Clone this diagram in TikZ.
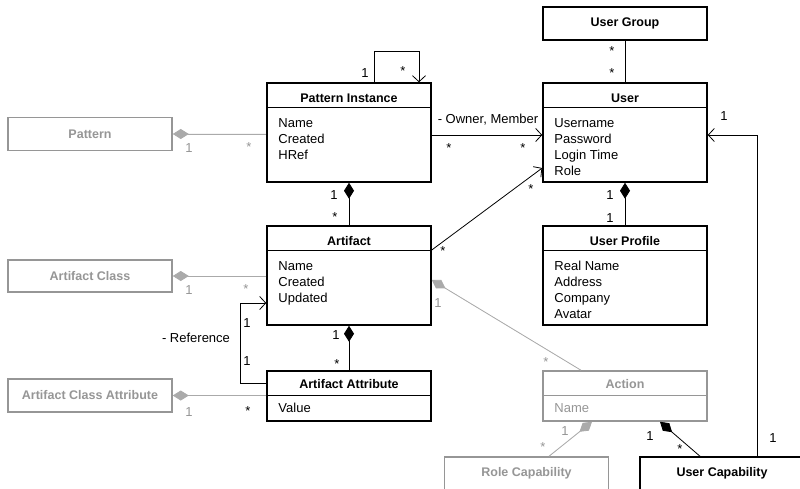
\documentclass[tikz,border=0pt]{standalone}
\usepackage{fontspec}
\setmainfont{Liberation Sans}
\usepackage{tikz}
\usetikzlibrary{arrows.meta}
\definecolor{umlgray}{RGB}{150,150,150}
\definecolor{linegray}{RGB}{170,170,170}

\begin{document}
\begin{tikzpicture}[x=1pt,y=-1pt,
    classbox/.style={shape=rectangle,draw=black,line width=1.5pt,minimum width=164pt,inner sep=0pt},
    ghostbox/.style={classbox,draw=umlgray},
    classname/.style={anchor=base,inner sep=0pt,font=\bfseries\fontsize{12.5}{15}\selectfont},
    attrs/.style={anchor=north west,align=left,inner sep=0pt,font=\fontsize{13}{16}\selectfont},
    mult/.style={inner sep=0pt,font=\fontsize{13}{15}\selectfont},
    gmult/.style={mult,text=umlgray},
    link/.style={line width=0.8pt},
    assoc/.style={link,-{Straight Barb[length=6pt,width=13pt]}},
    compo/.style={link,{Diamond[length=16pt,width=10pt]}-},
    gcompo/.style={compo,draw=linegray,fill=linegray}]
    \useasboundingbox (0,0) rectangle (800,489);
    \clip (0,0) rectangle (800,489);
    \fill[white] (0,0) rectangle (800,489);

    % classes
    \node[classbox,minimum height=99pt] (pi) at (349,132.5) {};
    \node[classname] (pi-t) at ([yshift=-20pt]pi.north) {Pattern Instance};
    \draw[link] ([yshift=-25pt]pi.north west) -- ([yshift=-25pt]pi.north east);
    \node[attrs] (pi-a) at ([xshift=12pt,yshift=-35.7pt]pi.north west) {Name\\Created\\HRef};

    \node[classbox,minimum height=99pt] (user) at (625,132.5) {};
    \node[classname] (user-t) at ([yshift=-20pt]user.north) {User};
    \draw[link] ([yshift=-25pt]user.north west) -- ([yshift=-25pt]user.north east);
    \node[attrs] (user-a) at ([xshift=12pt,yshift=-35.7pt]user.north west) {Username\\Password\\Login Time\\Role};

    \node[classbox,minimum height=33pt,font=\bfseries\fontsize{12.5}{15}\selectfont] (ugroup) at (625,23.5) {User Group};

    \node[ghostbox,minimum height=33pt,text=umlgray,font=\bfseries\fontsize{12.5}{15}\selectfont] (pattern) at (90,134) {Pattern};

    \node[classbox,minimum height=99pt] (art) at (349,275.5) {};
    \node[classname] (art-t) at ([yshift=-20pt]art.north) {Artifact};
    \draw[link] ([yshift=-25pt]art.north west) -- ([yshift=-25pt]art.north east);
    \node[attrs] (art-a) at ([xshift=12pt,yshift=-35.7pt]art.north west) {Name\\Created\\Updated};

    \node[ghostbox,minimum height=32pt,text=umlgray,font=\bfseries\fontsize{12.5}{15}\selectfont] (aclass) at (90,276) {Artifact Class};

    \node[classbox,minimum height=99pt] (uprofile) at (625,275.5) {};
    \node[classname] (uprofile-t) at ([yshift=-20pt]uprofile.north) {User Profile};
    \draw[link] ([yshift=-25pt]uprofile.north west) -- ([yshift=-25pt]uprofile.north east);
    \node[attrs] (uprofile-a) at ([xshift=12pt,yshift=-35.7pt]uprofile.north west) {Real Name\\Address\\Company\\Avatar};

    \node[classbox,minimum height=50pt] (aa) at (349,396) {};
    \node[classname] (aa-t) at ([yshift=-18pt]aa.north) {Artifact Attribute};
    \draw[link] ([yshift=-25pt]aa.north west) -- ([yshift=-25pt]aa.north east);
    \node[attrs] (aa-a) at ([xshift=12pt,yshift=-32.7pt]aa.north west) {Value};

    \node[ghostbox,minimum height=33pt,text=umlgray,font=\bfseries\fontsize{12.5}{15}\selectfont] (aca) at (90,395.5) {Artifact Class Attribute};

    \node[ghostbox,minimum height=50pt] (action) at (625,396) {};
    \node[classname,text=umlgray] (action-t) at ([yshift=-18pt]action.north) {Action};
    \draw[link,draw=umlgray] ([yshift=-25pt]action.north west) -- ([yshift=-25pt]action.north east);
    \node[attrs,text=umlgray] (action-a) at ([xshift=12pt,yshift=-32.7pt]action.north west) {Name};

    \node[ghostbox,minimum height=50pt] (rcap) at (526.5,482) {};
    \node[classname,text=umlgray] (rcap-t) at ([yshift=-20pt]rcap.north) {Role Capability};

    \node[classbox,minimum height=50pt] (ucap) at (722,482) {};
    \node[classname] (ucap-t) at ([yshift=-20pt]ucap.north) {User Capability};

    % connectors
    \draw[assoc] ([xshift=25pt]pi.north) -- ++(0,-31) -| ([xshift=70pt]pi.north);
    \draw[gcompo] (pattern.east) -- (pattern.east -| pi.west);
    \draw[assoc] ([yshift=-2.5pt]pi.east) -- ([yshift=-2.5pt]user.west);
    \draw[link] (ugroup) -- (user);
    \draw[compo] (user.south) -- (uprofile.north);
    \draw[compo] (pi.south) -- (art.north);
    \draw[assoc] ([yshift=25.5pt]art.east) -- ([yshift=-35.5pt]user.west);
    \draw[gcompo] (aclass.east) -- (aclass.east -| art.west);
    \draw[assoc] ([yshift=13pt]aa.west) -- ++(-26,0) |- ([yshift=-27.5pt]art.west);
    \draw[compo] (art.south) -- (aa.north);
    \draw[gcompo] (aca.east) -- (aca.east -| aa.west);
    \draw[gcompo] ([yshift=-4.5pt]art.east) -- ([xshift=-44pt]action.north);
    \draw[gcompo] ([xshift=-33pt]action.south) -- ([xshift=22.5pt]rcap.north);
    \draw[compo] ([xshift=35pt]action.south) -- ([xshift=-22pt]ucap.north);
    \draw[assoc] ([xshift=35pt]ucap.north) |- ([yshift=-2.5pt]user.east);

    % multiplicities and roles
    \node[mult] (m1) at (365,73) {1};
    \node[mult] (m2) at (403,71) {*};
    \node[gmult] (m3) at (189,148) {1};
    \node[gmult] (m4) at (249,147) {*};
    \node[mult] (m5) at (488,120) {- Owner, Member};
    \node[mult] (m6) at (449,148) {*};
    \node[mult] (m7) at (523,148) {*};
    \node[mult] (m8) at (612,51) {*};
    \node[mult] (m9) at (612,73) {*};
    \node[mult] (m10) at (610,195) {1};
    \node[mult] (m11) at (610,218) {1};
    \node[mult] (m12) at (334,195) {1};
    \node[mult] (m13) at (335,217) {*};
    \node[mult] (m14) at (443,251) {*};
    \node[mult] (m15) at (531,189) {*};
    \node[mult] (m16) at (724,116) {1};
    \node[gmult] (m17) at (189,290) {1};
    \node[gmult] (m18) at (246,289) {*};
    \node[mult] (m19) at (247,323) {1};
    \node[mult] (m20) at (247,361) {1};
    \node[mult] (m21) at (196,338) {- Reference};
    \node[mult] (m22) at (336,335) {1};
    \node[mult] (m23) at (337,364) {*};
    \node[gmult] (m24) at (189,412) {1};
    \node[mult] (m25) at (248,411) {*};
    \node[gmult] (m26) at (438,303) {1};
    \node[gmult] (m27) at (546,362) {*};
    \node[gmult] (m28) at (565,431) {1};
    \node[gmult] (m29) at (543,447) {*};
    \node[mult] (m30) at (650,436) {1};
    \node[mult] (m31) at (680,449) {*};
    \node[mult] (m32) at (773,438) {1};
\end{tikzpicture}
\end{document}
